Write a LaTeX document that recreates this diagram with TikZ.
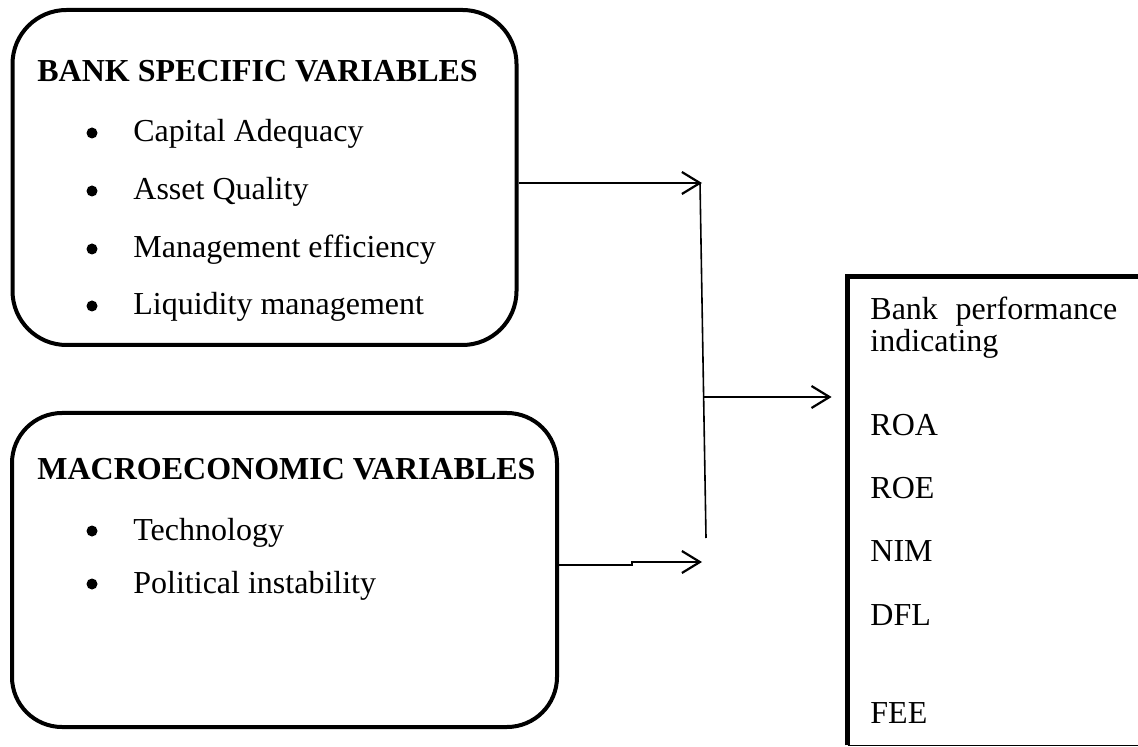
\documentclass[tikz,border=0pt]{standalone}
\usepackage{fontspec}
\setmainfont{Liberation Serif}
\usetikzlibrary{arrows.meta}
\begin{document}
\begin{tikzpicture}[x=0.5pt,y=-0.5pt,
  rbox/.style={draw, line width=2pt, rounded corners=27pt, inner sep=0pt},
  txt/.style={anchor=base west, inner sep=0pt, font=\fontsize{16}{19}\selectfont},
  head/.style={anchor=base west, inner sep=0pt, font=\fontsize{16}{19}\selectfont\bfseries},
  dot/.style={circle, fill, inner sep=0pt, minimum size=5.5pt},
  conn/.style={line width=1.1pt, -{Straight Barb[length=9pt,width=11pt,line width=1.1pt]}}]
\useasboundingbox (0,0) rectangle (1138,747);
% boxes
\node[rbox, minimum width=252pt, minimum height=167.5pt] (b1) at (264.5,177.5) {};
\node[rbox, rounded corners=25pt, minimum width=272.5pt, minimum height=157pt] (b2) at (284.5,570) {};
% box 1 text
\node[head] (h1) at (37,82) {BANK SPECIFIC VARIABLES};
\node[dot] (d1) at (92,133) {};
\node[txt] (i1) at (133,142) {Capital Adequacy};
\node[dot] (d2) at (92,191) {};
\node[txt] (i2) at (133,200) {Asset Quality};
\node[dot] (d3) at (92,249) {};
\node[txt] (i3) at (133,258) {Management efficiency};
\node[dot] (d4) at (92,306) {};
\node[txt] (i4) at (133,315) {Liquidity management};
% box 2 text
\node[head] (h2) at (37,480) {MACROECONOMIC VARIABLES};
\node[dot] (d5) at (92,531) {};
\node[txt] (i5) at (133,540) {Technology};
\node[dot] (d6) at (92,584) {};
\node[txt] (i6) at (133,593) {Political instability};
% right box
\node[minimum width=156pt, minimum height=234pt, inner sep=0pt] (rb) at (1004,511) {};
\draw[line width=2.5pt] (rb.south west) -- (rb.north west) -- (rb.north east);
\draw[line width=0.8pt] (rb.south west) -- (rb.south east);
\node[txt] (r1) at (870,320) {\hbox to 123.5pt{Bank\hfill performance}};
\node[txt] (r2) at (870,352) {indicating};
\node[txt] (r3) at (870,436) {ROA};
\node[txt] (r4) at (870,498) {ROE};
\node[txt] (r5) at (870,561) {NIM};
\node[txt] (r6) at (870,625) {DFL};
\node[txt] (r7) at (870,723) {FEE};
% connectors
\coordinate (t1) at (702,183);
\coordinate (v1) at (700,183);
\coordinate (v2) at (706,538);
\coordinate (m1) at (703,397);
\coordinate (k1) at (632,565);
\coordinate (k2) at (632,562);
\coordinate (t2) at (702,562);
\draw[conn] (b1.east |- t1) -- (t1);
\draw[line width=0.8pt] (v1) -- (v2);
\draw[conn] (m1) -- ([xshift=-8pt]rb.west |- m1);
\draw[conn] (b2.east |- k1) -- (k1) -- (k2) -- (t2);
\end{tikzpicture}
\end{document}
